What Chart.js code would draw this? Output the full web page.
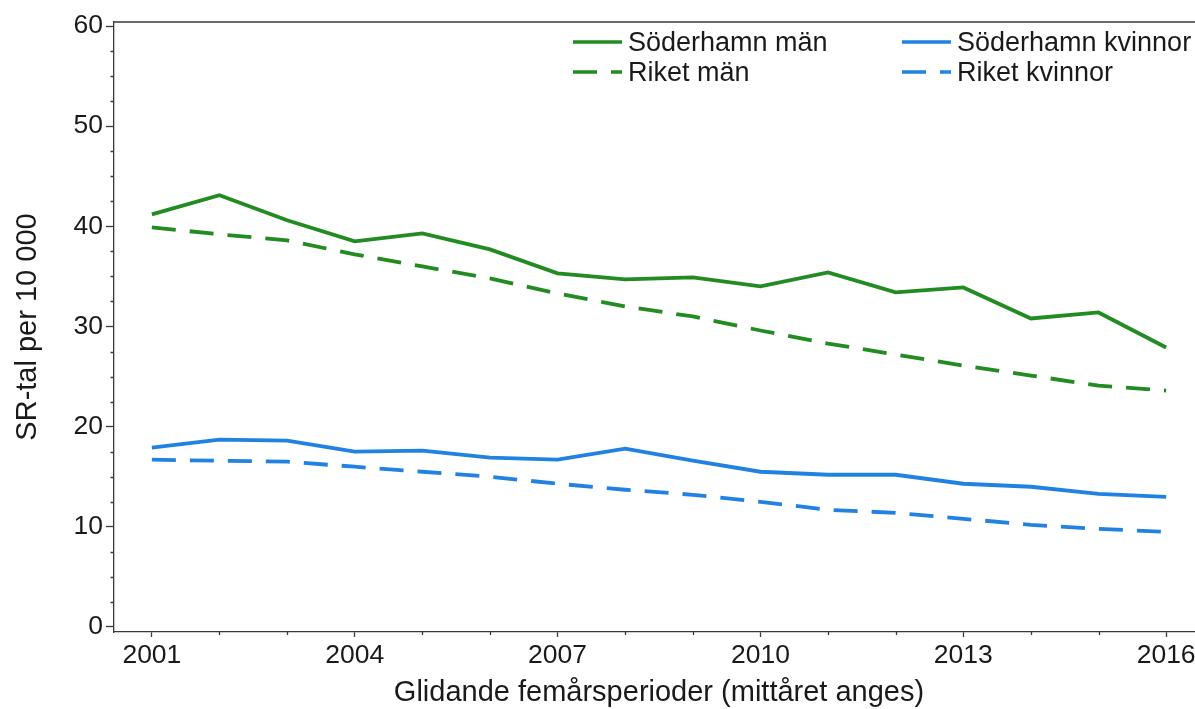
<!DOCTYPE html>
<html>
<head>
<meta charset="utf-8">
<script src="https://cdn.jsdelivr.net/npm/chart.js@4.4.1/dist/chart.umd.min.js"></script>
<style>
    html, body { margin: 0; padding: 0; background: #fff; overflow: hidden; }
    .chart { position: relative; width: 1240px; height: 720px; }
</style>
</head>
<body>
<div class="chart"><canvas id="sr-tal"></canvas></div>
<script>
// Data
const years = [2001, 2002, 2003, 2004, 2005, 2006, 2007, 2008, 2009, 2010, 2011, 2012, 2013, 2014, 2015, 2016];
const soderhamnMan = [41.2, 43.1, 40.6, 38.5, 39.3, 37.7, 35.3, 34.7, 34.9, 34.0, 35.4, 33.4, 33.9, 30.8, 31.4, 27.9];
const riketMan = [39.9, 39.2, 38.6, 37.2, 36.0, 34.8, 33.3, 32.0, 31.0, 29.6, 28.3, 27.2, 26.1, 25.1, 24.1, 23.6];
const soderhamnKvinnor = [17.9, 18.7, 18.6, 17.5, 17.6, 16.9, 16.7, 17.8, 16.6, 15.5, 15.2, 15.2, 14.3, 14.0, 13.3, 13.0];
const riketKvinnor = [16.7, 16.6, 16.5, 16.0, 15.5, 15.0, 14.3, 13.7, 13.2, 12.5, 11.7, 11.4, 10.8, 10.2, 9.8, 9.5];
const xTickLabels = [2001, 2004, 2007, 2010, 2013, 2016];
const yTickLabels = [0, 10, 20, 30, 40, 50, 60];
const yMinorTicks = [2.5, 5, 7.5, 12.5, 15, 17.5, 22.5, 25, 27.5, 32.5, 35, 37.5, 42.5, 45, 47.5, 52.5, 55, 57.5];

// Style
const green = "#228b22";
const blue = "#2182e2";
const axisColor = "#3a3a3a";
const textColor = "#1a1a1a";
const dash = [24, 14];
const fontFamily = "'Liberation Sans', Arial, sans-serif";

// Function
const toPoints = (values) => values.map((v, i) => ({x: years[i], y: v}));

const makeDataset = (label, values, color, dashed) => {
    return {
        label: label,
        data: toPoints(values),
        borderColor: color,
        backgroundColor: color,
        borderWidth: 3.8,
        borderDash: dashed ? dash : [],
        pointRadius: 0,
        tension: 0,
        fill: false
    };
};

// Plugin: minor ticks, top frame, legend
const decorations = {
    id: "decorations",
    afterDraw: (chart) => {
        const ctx = chart.ctx;
        const area = chart.chartArea;
        const x = chart.scales.x;
        const y = chart.scales.y;
        ctx.save();
        ctx.strokeStyle = axisColor;
        ctx.lineWidth = 1.3;
        ctx.beginPath();
        ctx.moveTo(area.left, area.top);
        ctx.lineTo(area.right, area.top);
        yMinorTicks.forEach(v => {
            let py = Math.round(y.getPixelForValue(v)) + 0.5;
            ctx.moveTo(area.left - 3.5, py);
            ctx.lineTo(area.left, py);
        });
        years.filter(v => !xTickLabels.includes(v)).forEach(v => {
            let px = Math.round(x.getPixelForValue(v)) + 0.5;
            ctx.moveTo(px, area.bottom);
            ctx.lineTo(px, area.bottom + 3);
        });
        ctx.stroke();

        // Legend, two columns
        const slots = [
            {x: 573, y: 43}, {x: 902, y: 43},
            {x: 573, y: 73}, {x: 902, y: 73}
        ];
        ctx.font = "27px " + fontFamily;
        ctx.textBaseline = "middle";
        ctx.fillStyle = textColor;
        chart.data.datasets.forEach((ds, i) => {
            let s = slots[i];
            ctx.strokeStyle = ds.borderColor;
            ctx.lineWidth = 3.6;
            ctx.setLineDash(ds.borderDash);
            ctx.beginPath();
            ctx.moveTo(s.x, s.y - 1);
            ctx.lineTo(s.x + 49, s.y - 1);
            ctx.stroke();
            ctx.setLineDash([]);
            ctx.fillText(ds.label, s.x + 55, s.y + 1);
        });
        ctx.restore();
    }
};

// Chart
const canvas = document.querySelector("#sr-tal");
new Chart(canvas, {
    type: "line",
    data: {
        datasets: [
            makeDataset("Söderhamn män", soderhamnMan, green, false),
            makeDataset("Söderhamn kvinnor", soderhamnKvinnor, blue, false),
            makeDataset("Riket män", riketMan, green, true),
            makeDataset("Riket kvinnor", riketKvinnor, blue, true)
        ]
    },
    options: {
        responsive: true,
        maintainAspectRatio: false,
        animation: false,
        devicePixelRatio: 1,
        layout: {
            padding: {top: 22, right: 36, bottom: 0, left: 0}
        },
        plugins: {
            legend: {display: false},
            tooltip: {enabled: false}
        },
        scales: {
            x: {
                type: "linear",
                min: 2000.44,
                max: 2016.56,
                afterBuildTicks: (scale) => {
                    scale.ticks = xTickLabels.map(v => ({value: v}));
                },
                afterFit: (scale) => {
                    scale.height = 88;
                },
                grid: {
                    drawOnChartArea: false,
                    drawTicks: true,
                    tickLength: 5,
                    tickWidth: 1.3,
                    tickColor: axisColor
                },
                border: {color: axisColor, width: 1.3},
                ticks: {
                    color: textColor,
                    padding: 3,
                    maxRotation: 0,
                    autoSkip: false,
                    font: {family: fontFamily, size: 26.5},
                    callback: (v) => String(v)
                },
                title: {
                    display: true,
                    text: "Glidande femårsperioder (mittåret anges)",
                    color: textColor,
                    font: {family: fontFamily, size: 29},
                    padding: {top: 0, bottom: 10}
                }
            },
            y: {
                min: -0.5,
                max: 60.4,
                afterBuildTicks: (scale) => {
                    scale.ticks = yTickLabels.map(v => ({value: v}));
                },
                afterFit: (scale) => {
                    scale.width = 114;
                },
                grid: {
                    drawOnChartArea: false,
                    drawTicks: true,
                    tickLength: 8,
                    tickWidth: 1.3,
                    tickColor: axisColor
                },
                border: {color: axisColor, width: 1.3},
                ticks: {
                    color: textColor,
                    padding: 3,
                    font: {family: fontFamily, size: 26.5}
                },
                title: {
                    display: true,
                    text: "SR-tal per 10 000",
                    color: textColor,
                    font: {family: fontFamily, size: 29},
                    padding: {top: 11, bottom: 0}
                }
            }
        }
    },
    plugins: [decorations]
});
</script>
</body>
</html>
